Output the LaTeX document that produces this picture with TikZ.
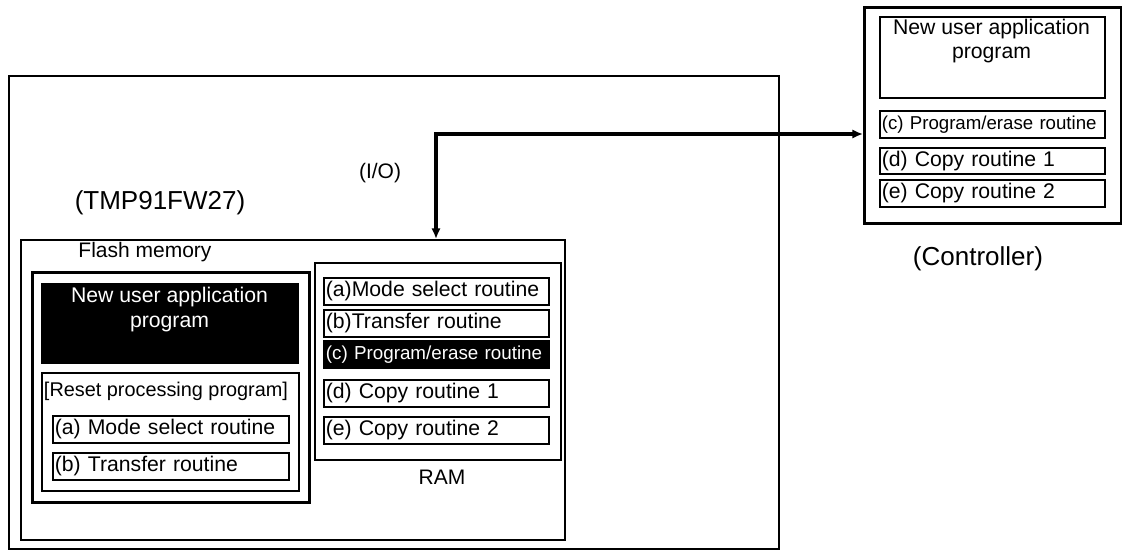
\documentclass[tikz,border=0pt]{standalone}
\usepackage{fontspec}
\setmainfont{Liberation Sans}
\usetikzlibrary{arrows.meta}
\begin{document}
\begin{tikzpicture}[x=0.75pt,y=-0.75pt,
  lbl/.style={inner sep=0pt, font=\fontsize{15.75}{18}\selectfont},
  big/.style={inner sep=0pt, font=\fontsize{19.5}{22}\selectfont},
  frame/.style={draw, line width=#1, inner sep=0pt, anchor=north west},
  blackbox/.style={fill=black, draw=black, line width=1pt, inner sep=0pt, anchor=north west},
  item/.style={draw, line width=1.3pt, inner xsep=1.5pt, inner ysep=0pt, anchor=north west,
    align=left, minimum height=20.25pt, font=\fontsize{15.9}{18}\selectfont},
  smallitem/.style={item, font=\fontsize{14}{16}\selectfont},
  blackitem/.style={item, fill=black, text=white, font=\fontsize{14.1}{16}\selectfont},
  link/.style={line width=2.8pt, {Latex[length=8pt,width=7pt]}-{Latex[length=8pt,width=7pt]}}
]
\useasboundingbox (0,0) rectangle (1122,550);

% TMP91FW27 side
\node[frame=1.6pt, minimum width=577.5pt, minimum height=354.75pt] (outer) at (8,75) {};
\node[frame=1.3pt, minimum width=408pt, minimum height=225pt] (chip) at (20,239) {};
\node[big] (tmplbl) at (160,203) {(TMP91FW27)};
\node[lbl] (iolbl) at (380,173) {(I/O)};
\node[lbl] (flashlbl) at (145,252) {Flash memory};

% Flash memory
\node[frame=2pt, minimum width=207.75pt, minimum height=172.5pt] (flash) at (31,271) {};
\node[blackbox, minimum width=192.75pt, minimum height=60pt] (newapp) at (41,283) {};
\node[lbl, text=white, align=center, font=\fontsize{15.9}{18.75}\selectfont] (newapptxt) at (169.5,310) {New user application\\program};
\node[frame=1.2pt, minimum width=192.75pt, minimum height=88.5pt] (reset) at (41,372) {};
\node[lbl, font=\fontsize{14.9}{18}\selectfont] (resettxt) at (166,391) {[Reset processing program]};
\node[item, text width=174pt] (fa) at (52,415) {(a) Mode select routine};
\node[item, text width=174pt] (fb) at (52,452) {(b) Transfer routine};

% RAM
\node[frame=1.3pt, minimum width=184.5pt, minimum height=147.75pt] (ram) at (314,262) {};
\node[item, text width=165.75pt] (ra) at (323,277) {(a)Mode select routine};
\node[item, text width=165.75pt] (rb) at (323,309) {(b)Transfer routine};
\node[blackitem, text width=165.75pt] (rc) at (323,340) {(c) Program/erase routine};
\node[item, text width=165.75pt] (rd) at (323,379) {(d) Copy routine 1};
\node[item, text width=165.75pt] (re) at (323,416) {(e) Copy routine 2};
\node[lbl] (ramlbl) at (442,477) {RAM};

% Controller
\node[frame=2pt, minimum width=192.75pt, minimum height=162pt] (ctrl) at (863,6) {};
\node[frame=1.2pt, minimum width=168.75pt, minimum height=60.75pt] (capp) at (879,16) {};
\node[lbl, align=center, font=\fontsize{15.9}{18}\selectfont] (capptxt) at (991.5,41) {New user application\\program};
\node[smallitem, text width=165.75pt] (cc) at (879,110) {(c) Program/erase routine};
\node[item, text width=165.75pt, minimum height=19.5pt] (cd) at (879,147) {(d) Copy routine 1};
\node[item, text width=165.75pt] (ce) at (879,179) {(e) Copy routine 2};
\node[big] (ctrllbl) at (978,259) {(Controller)};

% I/O connection
\coordinate (iotop) at (436,134);
\draw[link] (iotop |- chip.north) -- (iotop) -- (ctrl.west |- iotop);
\end{tikzpicture}
\end{document}
